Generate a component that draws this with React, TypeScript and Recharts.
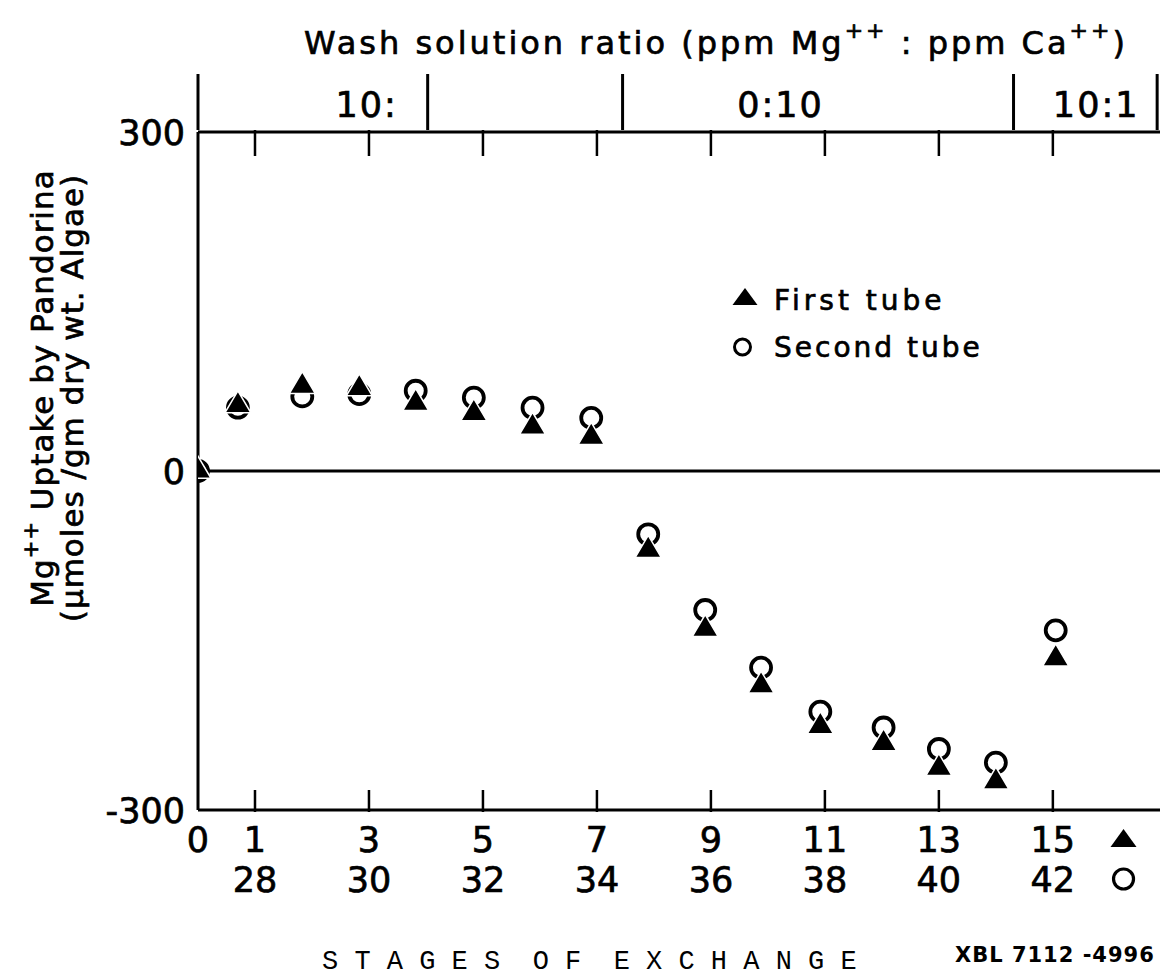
import React from 'react';
import { ScatterChart, Scatter, XAxis, YAxis, ReferenceLine, Legend } from 'recharts';

// stage positions as drawn (first tube stage numbers run 0..15)
const stagePos = [0, 0.7, 1.83, 2.83, 3.82, 4.84, 5.87, 6.9, 7.9, 8.9, 9.88, 10.92, 12.03, 13.0, 14.0, 15.05];
const firstTube = [0, 58, 75, 73, 60, 51, 39, 30, -70, -140, -190, -226, -241, -263, -275, -166];
const secondTube = [0, 56, 66, 68, 71, 65, 56, 47, -56, -123, -174, -213, -227, -246, -258, -141];

const stageTicks = [0, 1, 3, 5, 7, 9, 11, 13, 15];
const firstTubeLabels = ['0', '1', '3', '5', '7', '9', '11', '13', '15'];
const secondTubeLabels = ['', '28', '30', '32', '34', '36', '38', '40', '42'];
const tubeKeyAt = 16.24;

const ratioBounds = [0, 4.03, 7.45, 14.31, 16.83];
const ratioLabels = ['10:', '0:10', '10:1'];
const ratioLabelAt = [2.96, 10.22, 15.76];

const uptakeTicks = [-300, 0, 300];

const FONT = '"DejaVu Sans", sans-serif';
// lettering in the scan is a bit heavier than the regular face
const ink = { fill: '#000', stroke: '#000', strokeWidth: 0.7 };

const firstData = stagePos.map((x, i) => ({ x, y: firstTube[i] }));
const secondData = stagePos.map((x, i) => ({ x, y: secondTube[i] }));

const topTicks = [...stageTicks.filter(v => v > 0), ...ratioBounds, ...ratioLabelAt].sort((a, b) => a - b);
const bottomTicks = [...stageTicks, tubeKeyAt];

const Triangle = (props: any) => {
  const { cx, cy } = props;
  const w = 26, h = 22;
  return (
    <polygon
      points={`${cx},${cy - (2 * h) / 3} ${cx - w / 2},${cy + h / 3} ${cx + w / 2},${cy + h / 3}`}
      fill="#000"
      stroke="#fff"
      strokeWidth={1.5}
    />
  );
};

const Ring = (props: any) => {
  const { cx, cy } = props;
  return <circle cx={cx} cy={cy} r={10} fill="#fff" stroke="#000" strokeWidth={3.8} />;
};

const BottomTick = (props: any) => {
  const { x, y, payload } = props;
  const v = payload.value;
  if (v === tubeKeyAt) {
    return (
      <g>
        <polygon points={`${x},${y + 17} ${x - 13},${y + 35} ${x + 13},${y + 35}`} fill="#000" />
        <circle cx={x} cy={y + 67} r={10} fill="none" stroke="#000" strokeWidth={3.2} />
      </g>
    );
  }
  const i = stageTicks.indexOf(v);
  return (
    <g>
      {v > 0 && <line x1={x} x2={x} y1={y} y2={y - 22} stroke="#000" strokeWidth={2.5} />}
      <text x={x} y={y + 40} textAnchor="middle" fontSize={35} fontFamily={FONT} {...ink}>
        {firstTubeLabels[i]}
      </text>
      <text x={x} y={y + 80} textAnchor="middle" fontSize={35} fontFamily={FONT} {...ink}>
        {secondTubeLabels[i]}
      </text>
    </g>
  );
};

const TopTick = (props: any) => {
  const { x, y, payload } = props;
  const v = payload.value;
  if (ratioBounds.includes(v)) {
    return <line x1={x} x2={x} y1={y} y2={y - 56} stroke="#000" strokeWidth={3} />;
  }
  const li = ratioLabelAt.indexOf(v);
  if (li >= 0) {
    return (
      <text x={x} y={y - 13} textAnchor="middle" fontSize={35} letterSpacing={2} fontFamily={FONT} {...ink}>
        {ratioLabels[li]}
      </text>
    );
  }
  return <line x1={x} x2={x} y1={y} y2={y + 26} stroke="#000" strokeWidth={2.5} />;
};

const LeftTick = (props: any) => {
  const { x, y, payload } = props;
  return (
    <text x={x - 11} y={y + 13} textAnchor="end" fontSize={35} fontFamily={FONT} {...ink}>
      {payload.value}
    </text>
  );
};

const TitleLabel = (props: any) => {
  const vb = props.viewBox || { x: 198, y: 0 };
  return (
    <text x={vb.x + 518} y={vb.y + 54} textAnchor="middle" fontSize={32} letterSpacing={3} fontFamily={FONT} {...ink}>
      Wash solution ratio (ppm Mg
      <tspan dy={-16} fontSize={22}>++</tspan>
      <tspan dy={16}> : ppm Ca</tspan>
      <tspan dy={-16} fontSize={22}>++</tspan>
      <tspan dy={16}>)</tspan>
    </text>
  );
};

const BottomLabel = (props: any) => {
  const vb = props.viewBox || { x: 198, y: 810 };
  return (
    <g>
      <text
        x={vb.x + 124}
        y={vb.y + 159}
        fontSize={27}
        fontFamily='"Liberation Mono", monospace'
        fill="#000"
        style={{ whiteSpace: 'pre' }}
      >
        {'S T A G E S  O F  E X C H A N G E'}
      </text>
      <text x={vb.x + 757} y={vb.y + 152} fontSize={21} fontWeight="bold" letterSpacing={1} fontFamily={FONT} fill="#000">
        XBL 7112 -4996
      </text>
    </g>
  );
};

const UptakeLabel = (props: any) => {
  const vb = props.viewBox || { x: 0, y: 132 };
  const x1 = vb.x + 53, y1 = 388;
  const x2 = vb.x + 83, y2 = 398;
  return (
    <g>
      <text transform={`rotate(-90, ${x1}, ${y1})`} x={x1} y={y1} textAnchor="middle" fontSize={31} letterSpacing={1} fontFamily={FONT} {...ink}>
        Mg
        <tspan dy={-15} fontSize={21}>++</tspan>
        <tspan dy={15}>  Uptake  by  Pandorina</tspan>
      </text>
      <text transform={`rotate(-90, ${x2}, ${y2})`} x={x2} y={y2} textAnchor="middle" fontSize={31} letterSpacing={1} fontFamily={FONT} {...ink}>
        (μmoles /gm dry wt. Algae)
      </text>
    </g>
  );
};

const LegendKey = () => (
  <svg width={300} height={100} style={{ display: 'block' }}>
    <polygon points="25,18 12.5,35 37.5,35" fill="#000" />
    <text x={54} y={40} fontSize={28} letterSpacing={4} fontFamily={FONT} {...ink}>
      First  tube
    </text>
    <circle cx={22.5} cy={77} r={8} fill="none" stroke="#000" strokeWidth={3} />
    <text x={54} y={87} fontSize={28} letterSpacing={3} fontFamily={FONT} {...ink}>
      Second tube
    </text>
  </svg>
);

export default function App() {
  return (
    <div style={{ position: 'absolute', left: 0, top: 0, width: 1161, height: 979, background: '#fff' }}>
      <ScatterChart width={1161} height={979} margin={{ top: 0, right: 1, bottom: 0, left: 0 }}>
        <XAxis
          xAxisId="top"
          orientation="top"
          type="number"
          dataKey="x"
          domain={[0, 16.88]}
          allowDataOverflow
          ticks={topTicks}
          interval={0}
          height={132}
          tickSize={0}
          tickLine={false}
          axisLine={{ stroke: '#000', strokeWidth: 3 }}
          tick={<TopTick />}
          label={<TitleLabel />}
        />
        <XAxis
          type="number"
          dataKey="x"
          domain={[0, 16.88]}
          allowDataOverflow
          ticks={bottomTicks}
          interval={0}
          height={169}
          tickSize={0}
          tickLine={false}
          axisLine={{ stroke: '#000', strokeWidth: 3 }}
          tick={<BottomTick />}
          label={<BottomLabel />}
        />
        <YAxis
          type="number"
          dataKey="y"
          domain={[-300, 300]}
          ticks={uptakeTicks}
          interval={0}
          width={198}
          tickSize={0}
          tickLine={false}
          axisLine={{ stroke: '#000', strokeWidth: 3 }}
          tick={<LeftTick />}
          label={<UptakeLabel />}
        />
        <ReferenceLine y={0} stroke="#000" strokeWidth={3} />
        <Legend
          layout="vertical"
          align="center"
          verticalAlign="middle"
          wrapperStyle={{ left: 720, top: 270, width: 300, height: 100 }}
          content={() => <LegendKey />}
        />
        <Scatter name="Second tube" data={secondData} shape={<Ring />} isAnimationActive={false} />
        <Scatter name="First tube" data={firstData} shape={<Triangle />} isAnimationActive={false} />
      </ScatterChart>
    </div>
  );
}
